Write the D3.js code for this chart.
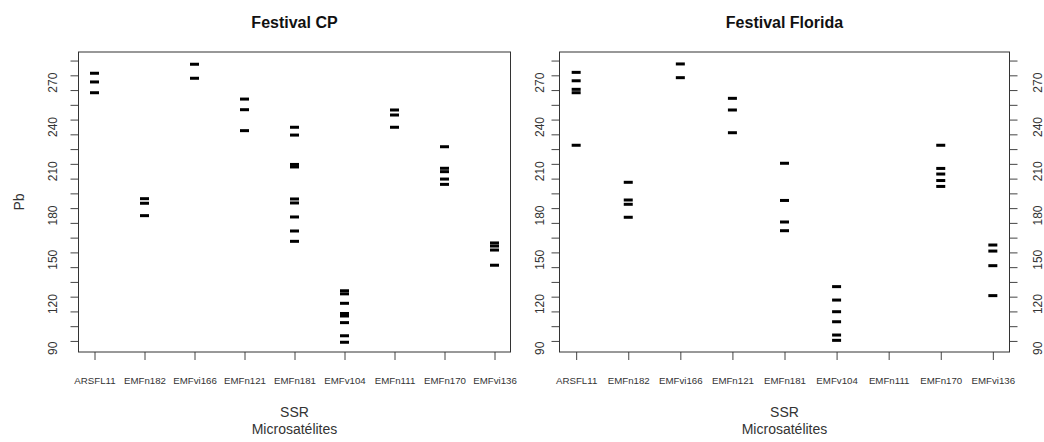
<!DOCTYPE html>
<html>
<head>
<meta charset="utf-8">
<script src="https://cdn.jsdelivr.net/npm/d3@7"></script>
<style>
  body { margin: 0; background: #fff; }
  text { font-family: "Liberation Sans", Arial, sans-serif; }
</style>
</head>
<body>
<div id="chart"></div>
<script>
// microsatellite markers (x categories)
const markers = ['ARSFL11', 'EMFn182', 'EMFvi166', 'EMFn121', 'EMFn181', 'EMFv104', 'EMFn111', 'EMFn170', 'EMFvi136'];

// allele sizes (Pb) per marker, Festival CP
const allelesCP = [
    [276.4, 270.5, 263.2],
    [191.4, 188.3, 179.9],
    [282.5, 273.0],
    [258.9, 251.7, 237.5],
    [239.8, 234.5, 214.6, 212.9, 191.2, 188.5, 179.0, 169.5, 162.5],
    [129.0, 126.9, 120.5, 113.6, 111.9, 107.4, 98.5, 94.1],
    [251.5, 248.1, 239.8],
    [226.6, 212.0, 209.7, 204.7, 201.1],
    [161.4, 159.3, 156.6, 146.3],
];

// allele sizes (Pb) per marker, Festival Florida
const allelesFlorida = [
    [277.0, 271.3, 265.5, 263.2, 227.6],
    [202.5, 190.5, 187.6, 178.8],
    [282.7, 273.4],
    [259.4, 251.5, 236.1],
    [215.4, 190.2, 175.6, 169.7],
    [131.8, 122.7, 114.8, 108.0, 99.0, 95.4],
    [],
    [227.6, 211.9, 208.1, 203.7, 199.7],
    [160.0, 155.9, 146.0, 125.7],
];

const yLabels = [90, 120, 150, 180, 210, 240, 270];
const yTicks = [95, 105, 115, 125, 135, 145, 155, 165, 175, 185, 195, 205, 215, 225, 235, 245, 255, 265, 275, 285];
const yDomain = [87.5, 290.8];

const width = 1044;
const height = 442;
const plotTop = 52;
const plotBottom = 352;
const tickLen = 8;

const svg = d3.select('#chart')
    .append('svg')
    .attr('width', width)
    .attr('height', height);

const y = d3.scaleLinear()
    .domain(yDomain)
    .range([plotBottom, plotTop]);

function drawPanel(p) {
    const x = d3.scalePoint()
        .domain(markers)
        .range([p.left, p.right])
        .padding(0.32);

    const g = svg.append('g');

    // marks
    const rows = [];
    p.alleles.forEach((list, i) => list.forEach(v => rows.push({ m: markers[i], v: v })));

    g.append('g')
        .selectAll('rect')
        .data(rows)
        .join('rect')
        .attr('x', d => x(d.m) - 4.5)
        .attr('y', d => y(d.v) - 1.5)
        .attr('width', 9)
        .attr('height', 3)
        .attr('fill', '#000');

    // x axis
    g.append('g')
        .attr('transform', `translate(0, ${plotBottom})`)
        .call(d3.axisBottom(x).tickSize(tickLen).tickSizeOuter(0).tickPadding(17))
        .call(a => a.select('.domain').remove())
        .call(a => a.selectAll('line').attr('stroke', '#444'))
        .call(a => a.selectAll('text')
            .attr('font-size', '9.7px')
            .attr('fill', '#333')
            .attr('font-family', '"Liberation Sans", Arial, sans-serif'));

    // y axes
    p.yAxes.forEach(side => {
        const left = side.pos === 'left';
        const ax = left ? d3.axisLeft(y) : d3.axisRight(y);
        g.append('g')
            .attr('transform', `translate(${left ? p.left : p.right}, 0)`)
            .call(ax.tickValues(yTicks).tickFormat('').tickSize(tickLen).tickSizeOuter(0))
            .call(a => a.select('.domain').remove())
            .call(a => a.selectAll('line').attr('stroke', '#444'));

        const lx = left ? p.left - side.offset : p.right + side.offset;
        g.append('g')
            .selectAll('text')
            .data(yLabels)
            .join('text')
            .attr('transform', d => `translate(${lx}, ${y(d)}) rotate(-90)`)
            .attr('text-anchor', 'middle')
            .attr('dy', '0.35em')
            .attr('font-size', '12px')
            .attr('fill', '#333')
            .text(d => d);
    });

    // box
    g.append('rect')
        .attr('x', p.left)
        .attr('y', plotTop)
        .attr('width', p.right - p.left)
        .attr('height', plotBottom - plotTop)
        .attr('fill', 'none')
        .attr('stroke', '#333')
        .attr('stroke-width', 1);

    const cx = (p.left + p.right) / 2;

    g.append('text')
        .attr('x', cx)
        .attr('y', 28)
        .attr('text-anchor', 'middle')
        .attr('font-size', '16px')
        .attr('font-weight', 'bold')
        .attr('fill', '#111')
        .text(p.title);

    g.append('text')
        .attr('x', cx)
        .attr('y', 417)
        .attr('text-anchor', 'middle')
        .attr('font-size', '14px')
        .attr('fill', '#333')
        .text('SSR');

    g.append('text')
        .attr('x', cx)
        .attr('y', 434)
        .attr('text-anchor', 'middle')
        .attr('font-size', '14px')
        .attr('fill', '#333')
        .text('Microsatélites');

    if (p.yTitle) {
        g.append('text')
            .attr('transform', `translate(19, ${(plotTop + plotBottom) / 2}) rotate(-90)`)
            .attr('text-anchor', 'middle')
            .attr('dy', '0.35em')
            .attr('font-size', '14px')
            .attr('fill', '#333')
            .text(p.yTitle);
    }
}

drawPanel({
    title: 'Festival CP',
    left: 78.5,
    right: 510.5,
    alleles: allelesCP,
    yAxes: [{ pos: 'left', offset: 25.5 }],
    yTitle: 'Pb',
});

drawPanel({
    title: 'Festival Florida',
    left: 559.5,
    right: 1009.5,
    alleles: allelesFlorida,
    yAxes: [{ pos: 'left', offset: 20 }, { pos: 'right', offset: 28.5 }],
});
</script>
</body>
</html>
